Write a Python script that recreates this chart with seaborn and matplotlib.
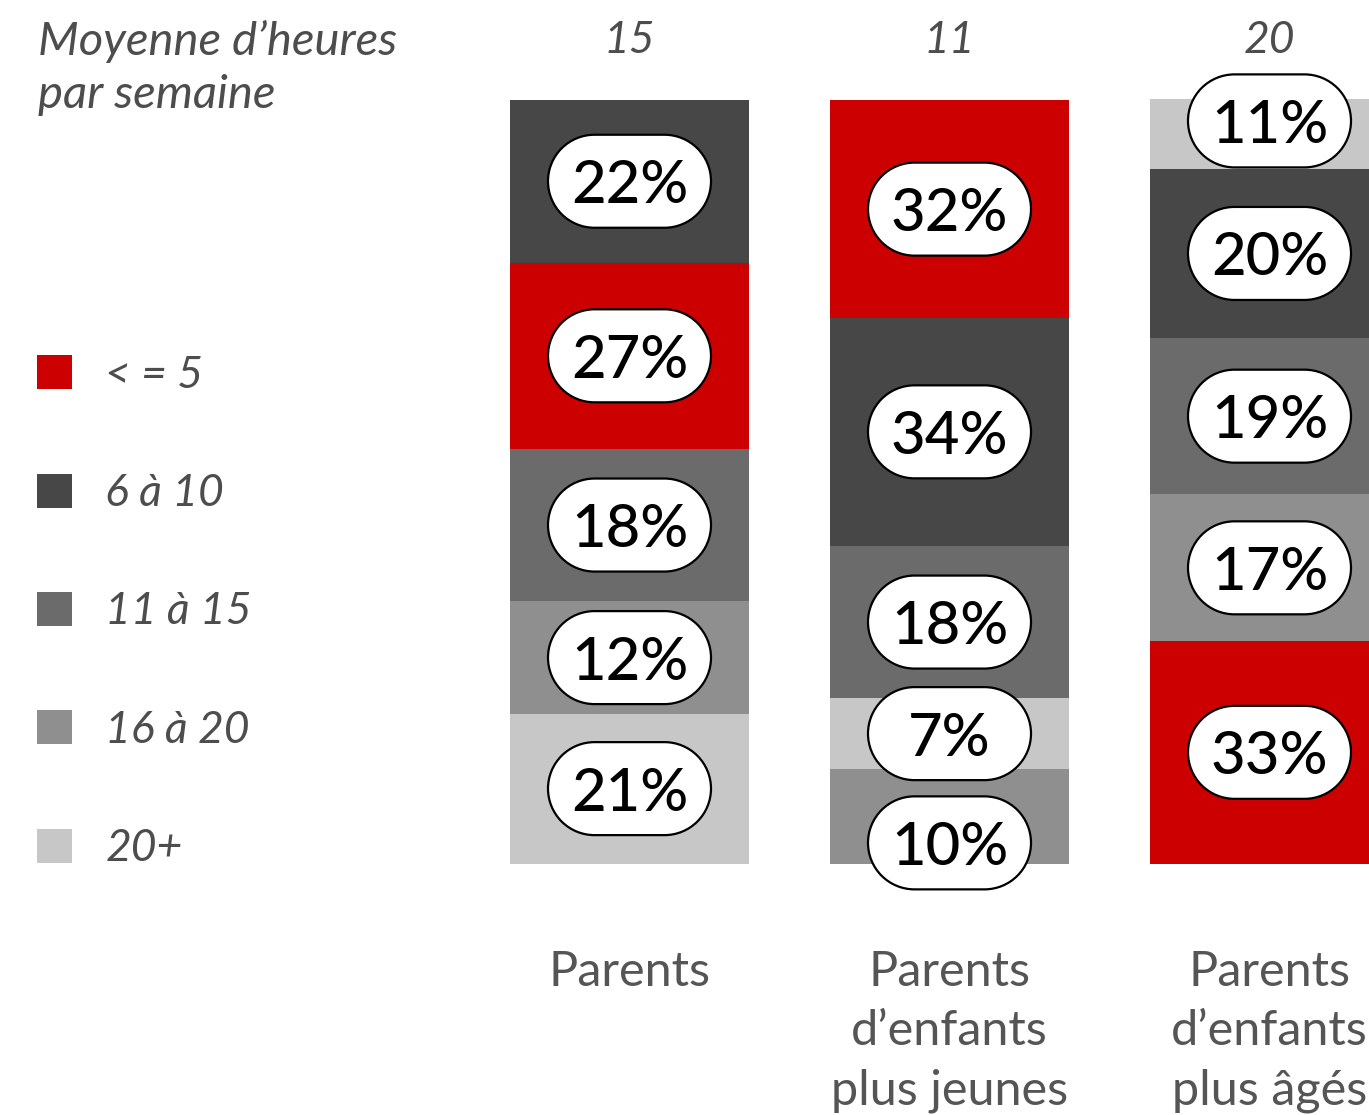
import pandas as pd
import numpy as np
import matplotlib.pyplot as plt
import seaborn as sns
from matplotlib.patches import PathPatch, Patch
from matplotlib.path import Path
from matplotlib.transforms import ScaledTranslation

# data
groups = ["Parents", "Parents\nd’enfants\nplus jeunes", "Parents\nd’enfants\nplus âgés"]
avg_hours = [15, 11, 20]
bins = ["< = 5", "6 à 10", "11 à 15", "16 à 20", "20+"]
colors = ["#cc0000", "#474747", "#6b6b6b", "#8f8f8f", "#c7c7c7"]

# each bar is stacked in its own order (bottom -> top)
stack_parents = ["20+", "16 à 20", "11 à 15", "< = 5", "6 à 10"]
pct_parents = [21, 12, 18, 27, 22]
height_parents = [19.6, 14.7, 20.0, 24.3, 21.4]

stack_young = ["16 à 20", "20+", "11 à 15", "6 à 10", "< = 5"]
pct_young = [10, 7, 18, 34, 32]
height_young = [12.4, 9.2, 20.0, 29.8, 28.5]

stack_old = ["< = 5", "16 à 20", "11 à 15", "6 à 10", "20+"]
pct_old = [33, 17, 19, 20, 11]
height_old = [29.1, 19.2, 20.5, 22.1, 9.2]

# labels moved off the segment centre so pills don't collide
label_nudge = {(1, 0): -3.5, (2, 4): 1.7}

rows = []
for g, stack, pct, hh in zip(groups,
                             [stack_parents, stack_young, stack_old],
                             [pct_parents, pct_young, pct_old],
                             [height_parents, height_young, height_old]):
    for level, (b, p, h) in enumerate(zip(stack, pct, hh)):
        rows.append(dict(group=g, bin=b, pct=p, height=h, level=level))
df = pd.DataFrame(rows)
df["top"] = df.groupby("group")["height"].cumsum()
df["mid"] = df["top"] - df["height"] / 2

sns.set_theme(style="white")
plt.rcParams["font.family"] = ["Lato", "DejaVu Sans"]

text_grey = "#4d4d4d"
px_per_unit = 7.64


def stadium(w, h):
    # pill outline (in inches) centred on 0,0
    r = h / 2
    right = Path.arc(-90, 90)
    left = Path.arc(90, 270)
    vr = right.vertices * r + [w / 2 - r, 0]
    vl = left.vertices * r + [-(w / 2 - r), 0]
    verts = np.concatenate([vr, vl, vr[:1]])
    codes = np.concatenate([right.codes, [Path.LINETO], left.codes[1:],
                            [Path.CLOSEPOLY]])
    return Path(verts, codes)


pill_path = stadium(1.63, 0.93)

fig = plt.figure(figsize=(13.69, 11.15), dpi=100)
ax = fig.add_axes([0, 0, 1, 1])

# cumulative bars, drawn from the top level down so lower ones cover them
for level in range(4, -1, -1):
    sub = df[df["level"] == level]
    sns.barplot(data=sub, x="group", y="top", hue="bin", order=groups,
                hue_order=bins, palette=dict(zip(bins, colors)), dodge=False,
                width=0.744, saturation=1, linewidth=0, errorbar=None,
                legend=False, ax=ax)

ax.set_xlim(-629.5 / 320, (1369 - 629.5) / 320)
ax.set_ylim(-(1115 - 863.5) / px_per_unit, 863.5 / px_per_unit)
ax.axis("off")

# pill labels
for _, r in df.iterrows():
    gi = groups.index(r["group"])
    y = r["mid"] + label_nudge.get((gi, r["level"]), 0)
    trans = fig.dpi_scale_trans + ScaledTranslation(gi, y, ax.transData)
    pill = PathPatch(pill_path, transform=trans, fc="white", ec="black",
                     lw=1.6, zorder=5)
    ax.add_artist(pill)
    ax.text(gi, y, f"{r['pct']}%", ha="center", va="center_baseline",
            fontsize=43, color="black", fontweight="medium", zorder=6)

# average hours above bars
for gi, v in enumerate(avg_hours):
    ax.text(gi, (863.5 - 53) / px_per_unit, str(v), ha="center",
            va="baseline", fontsize=32, style="italic", color=text_grey)

# group names below bars
for gi, g in enumerate(groups):
    ax.text(gi, (863.5 - 950) / px_per_unit, g, ha="center", va="top",
            fontsize=35, color="#555555", linespacing=1.43)

fig.text(38 / 1369, 1 - 20 / 1115, "Moyenne d’heures\npar semaine",
         ha="left", va="top", fontsize=34, style="italic", color=text_grey,
         linespacing=1.33)

handles = [Patch(facecolor=c, edgecolor="none") for c in colors]
fig.legend(handles, bins, loc="upper left",
           bbox_to_anchor=(19 / 1369, 1 - 337 / 1115), frameon=False,
           prop=dict(family=["Lato", "DejaVu Sans"], style="italic", size=32),
           labelcolor=text_grey, handlelength=0.8, handleheight=0.8,
           handletextpad=0.74, labelspacing=1.74, borderaxespad=0)

fig.savefig("out.png", dpi=100)
